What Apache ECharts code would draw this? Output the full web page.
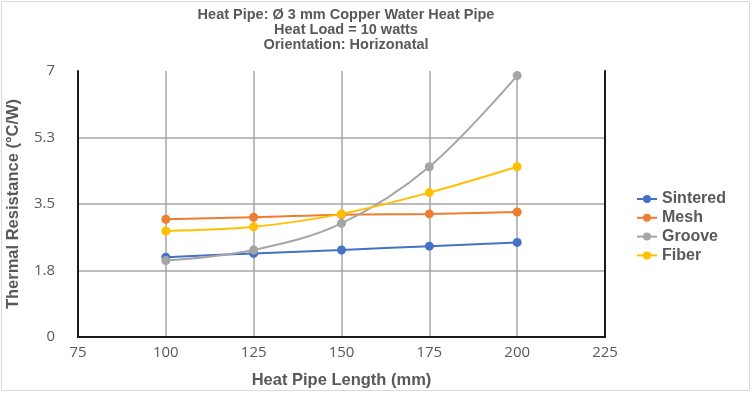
<!DOCTYPE html>
<html>
<head>
<meta charset="utf-8">
<script src="https://cdn.jsdelivr.net/npm/echarts@6/dist/echarts.min.js"></script>
<style>
html,body{margin:0;padding:0;background:#fff;}
#c{width:754px;height:394px;}
</style>
</head>
<body>
<div id="c"></div>
<script>
// ---- data ----
var lengths = [100, 125, 150, 175, 200];
var sintered = [2.10, 2.20, 2.29, 2.39, 2.49];
var mesh = [3.10, 3.15, 3.22, 3.24, 3.29];
var groove = [2.01, 2.29, 2.99, 4.48, 6.88];
var fiber = [2.79, 2.90, 3.24, 3.80, 4.48];
var seriesNames = ['Sintered', 'Mesh', 'Groove', 'Fiber'];
var yTickValues = [0, 1.75, 3.5, 5.25, 7];
var yTickLabels = ['0', '1.8', '3.5', '5.3', '7'];
var xTickLabels = ['75', '100', '125', '150', '175', '200', '225'];
var titleLines = ['Heat Pipe: Ø 3 mm Copper Water Heat Pipe', 'Heat Load = 10 watts', 'Orientation: Horizonatal'];
var xTitle = 'Heat Pipe Length (mm)';
var yTitle = 'Thermal Resistance (°C/W)';

var colors = ['#4472C4', '#ED7D31', '#A5A5A5', '#FFC000'];
var values = [sintered, mesh, groove, fiber];
var textGray = '#595959';
var borderLine = {show: true, lineStyle: {color: '#1a1a1a', width: 2}};
var gridLine = {show: true, showMinLine: false, showMaxLine: false, lineStyle: {color: '#a6a6a6', width: 1.5}};

function pairs(arr) {
  return lengths.map(function (x, i) { return [x, arr[i]]; });
}

var chart = echarts.init(document.getElementById('c'), null, {renderer: 'canvas'});
chart.setOption({
  animation: false,
  backgroundColor: '#fff',
  color: colors,
  title: {
    text: titleLines.join('\n'),
    left: 341,
    textAlign: 'center',
    top: 2,
    textStyle: {
      fontFamily: 'Liberation Sans, Arial, sans-serif',
      fontWeight: 'bold',
      fontSize: 14.5,
      lineHeight: 15,
      color: textGray
    }
  },
  graphic: [{
    type: 'rect',
    shape: {x: 1.5, y: 1.5, width: 748, height: 389},
    style: {fill: 'none', stroke: '#d9d9d9', lineWidth: 1},
    silent: true,
    z: -1
  }],
  legend: {
    orient: 'vertical',
    left: 631,
    top: 186,
    itemWidth: 20,
    itemHeight: 10,
    itemGap: 2.8,
    data: seriesNames,
    textStyle: {
      fontFamily: 'Liberation Sans, Arial, sans-serif',
      fontWeight: 'bold',
      fontSize: 16,
      lineHeight: 15,
      color: textGray,
      padding: [0, 0, 0, 0]
    }
  },
  grid: {
    left: 78,
    right: 149,
    top: 71,
    bottom: 57,
    show: false,
    containLabel: false,
    outerBoundsMode: 'none'
  },
  xAxis: [{
    type: 'value',
    min: 75,
    max: 225,
    interval: 25,
    name: xTitle,
    nameLocation: 'middle',
    nameGap: 35,
    nameTextStyle: {
      fontFamily: 'Liberation Sans, Arial, sans-serif',
      fontWeight: 'bold',
      fontSize: 16.5,
      color: textGray
    },
    axisLine: borderLine,
    axisTick: {show: false},
    axisLabel: {
      margin: 8,
      fontFamily: 'Open Sans, sans-serif',
      fontSize: 15,
      color: textGray,
      formatter: function (v) {
        var i = Math.round((v - 75) / 25);
        return xTickLabels[i] !== undefined ? xTickLabels[i] : '';
      }
    },
    splitLine: gridLine
  }, {
    type: 'value',
    position: 'top',
    min: 75,
    max: 225,
    interval: 25,
    axisLine: borderLine,
    axisTick: {show: false},
    axisLabel: {show: false},
    splitLine: {show: false}
  }],
  yAxis: [{
    type: 'value',
    min: 0,
    max: 7,
    interval: 1.75,
    name: yTitle,
    nameLocation: 'middle',
    nameGap: 56,
    nameTextStyle: {
      fontFamily: 'Liberation Sans, Arial, sans-serif',
      fontWeight: 'bold',
      fontSize: 16.5,
      color: textGray
    },
    axisLine: borderLine,
    axisTick: {show: false},
    axisLabel: {
      margin: 23,
      fontFamily: 'Open Sans, sans-serif',
      fontSize: 15,
      color: textGray,
      formatter: function (v) {
        for (var i = 0; i < yTickValues.length; i++) {
          if (Math.abs(yTickValues[i] - v) < 1e-6) return yTickLabels[i];
        }
        return '';
      }
    },
    splitLine: gridLine
  }, {
    type: 'value',
    position: 'right',
    min: 0,
    max: 7,
    interval: 1.75,
    axisLine: borderLine,
    axisTick: {show: false},
    axisLabel: {show: false},
    splitLine: {show: false}
  }],
  series: seriesNames.map(function (name, k) {
    return {
      name: name,
      type: 'line',
      data: pairs(values[k]),
      smooth: 0.35,
      symbol: 'circle',
      symbolSize: 9,
      lineStyle: {width: 2, color: colors[k]},
      itemStyle: {color: colors[k]},
      z: 3 + k
    };
  })
});
</script>
</body>
</html>
